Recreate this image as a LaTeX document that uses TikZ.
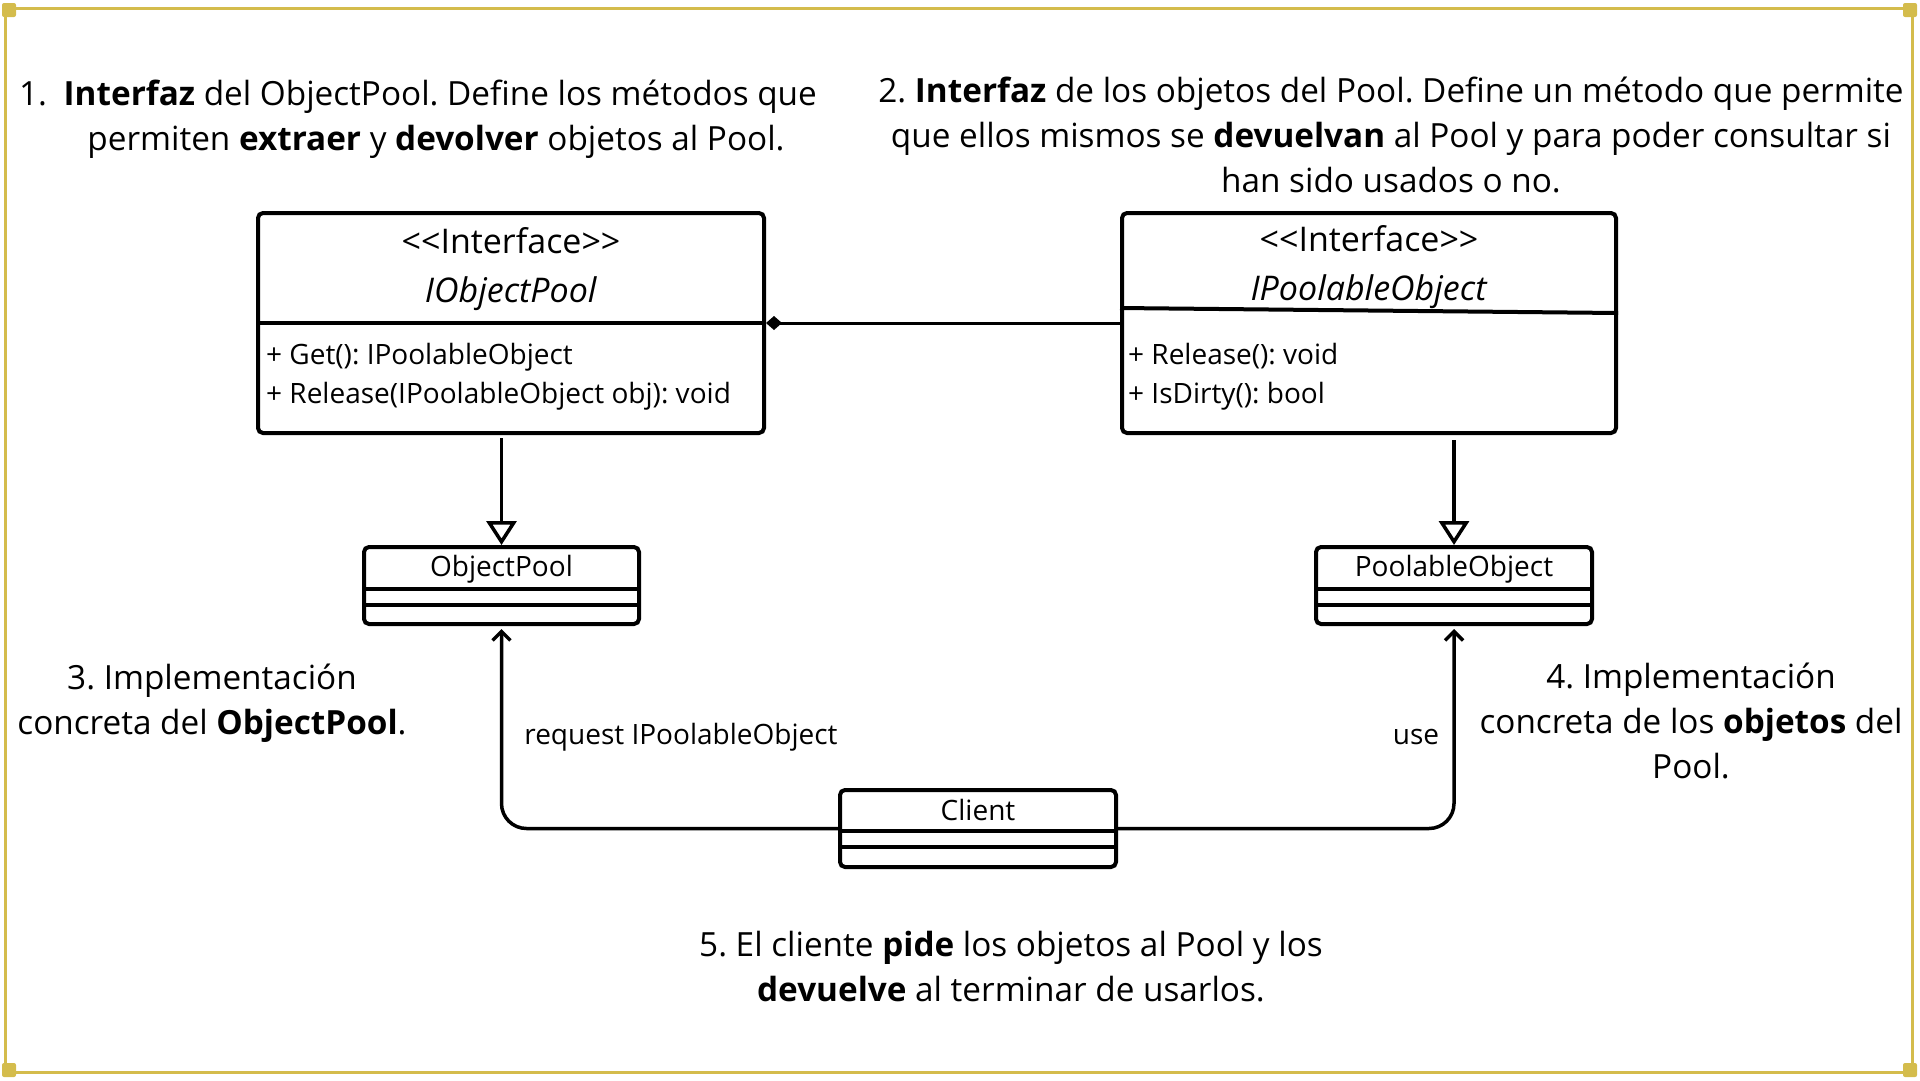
\documentclass[tikz,border=0pt]{standalone}
\usepackage{fontspec}
\setmainfont{Open Sans}
\usetikzlibrary{arrows.meta}
\definecolor{gold}{HTML}{D4BC4C}
\frenchspacing

\begin{document}
\begin{tikzpicture}[x=1pt,y=-1pt,
    umlbox/.style={draw, line width=4pt, rounded corners=5pt, inner sep=0pt},
    divider/.style={line width=4pt},
    bigtext/.style={font=\fontsize{33.3}{45}\selectfont, align=center, inner sep=0pt},
    headtext/.style={font=\fontsize{34}{49}\selectfont, align=center, inner sep=0pt},
    boxtext/.style={font=\fontsize{28}{39}\selectfont, align=left, inner sep=0pt},
    linktext/.style={font=\fontsize{28}{32}\selectfont, inner sep=0pt},
    inherit/.style={line width=3.5pt, -{Triangle[open, length=24pt, width=30pt, line width=3.5pt]}},
    uses/.style={line width=3.5pt, rounded corners=25pt, -{Straight Barb[length=9pt, width=18pt]}},
    owns/.style={line width=3pt, {Diamond[length=16pt, width=14pt]}-},
    frame/.style={draw=gold, line width=3pt}]
    \useasboundingbox (0,0) rectangle (1920,1080);
    % marco
    \draw[frame] (5,8) rectangle (1912,1072);
    \foreach \cx/\cy in {9/10, 1910/10, 9/1070, 1910/1070}
      \fill[gold, rounded corners=2pt] (\cx-7,\cy-7) rectangle (\cx+7,\cy+7);

    % textos
    \node[bigtext] (txtuno) at (418,119) {1.\enspace\textbf{Interfaz} del ObjectPool. Define los métodos que\\ \hspace*{36pt}permiten \textbf{extraer} y \textbf{devolver} objetos al Pool.};
    \node[bigtext] (txtdos) at (1391,135) {2. \textbf{Interfaz} de los objetos del Pool. Define un método que permite\\ que ellos mismos se \textbf{devuelvan} al Pool y para poder consultar si\\ han sido usados o no.};
    \node[bigtext] (txttres) at (212,703) {3. Implementación\\ concreta del \textbf{ObjectPool}.};
    \node[bigtext] (txtcuatro) at (1691,721) {4. Implementación\\ concreta de los \textbf{objetos} del\\ Pool.};
    \node[bigtext] (txtcinco) at (1011,967) {5. El cliente \textbf{pide} los objetos al Pool y los\\ \textbf{devuelve} al terminar de usarlos.};

    % interfaces
    \node[umlbox, minimum width=506pt, minimum height=220pt] (iop) at (511,323) {};
    \draw[divider] (iop.west) -- (iop.east);
    \node[headtext] (iophead) at (511,269) {<\kern0pt<Interface>\kern0pt>\\ \textit{IObjectPool}};
    \node[boxtext, anchor=west] (iopops) at (266,377) {+ Get(): IPoolableObject\\ + Release(IPoolableObject obj): void};

    \node[umlbox, minimum width=494pt, minimum height=220pt] (ipo) at (1369,323) {};
    \draw[divider] ([yshift=15pt]ipo.west) -- ([yshift=10pt]ipo.east);
    \node[headtext] (ipohead) at (1369,267) {<\kern0pt<Interface>\kern0pt>\\ \textit{IPoolableObject}};
    \node[boxtext, anchor=west] (ipoops) at (1128,377) {+ Release(): void\\ + IsDirty(): bool};

    % clases
    \node[umlbox, minimum width=275pt, minimum height=77pt] (opool) at (501.5,585.5) {};
    \node[boxtext] (opooltitle) at ([yshift=16pt]opool.center) {ObjectPool};
    \draw[divider] ([yshift=-3.5pt]opool.west) -- ([yshift=-3.5pt]opool.east);
    \draw[divider] ([yshift=-19.5pt]opool.west) -- ([yshift=-19.5pt]opool.east);

    \node[umlbox, minimum width=276pt, minimum height=77pt] (pobj) at (1454,585.5) {};
    \node[boxtext] (pobjtitle) at ([yshift=16pt]pobj.center) {PoolableObject};
    \draw[divider] ([yshift=-3.5pt]pobj.west) -- ([yshift=-3.5pt]pobj.east);
    \draw[divider] ([yshift=-19.5pt]pobj.west) -- ([yshift=-19.5pt]pobj.east);

    \node[umlbox, minimum width=276pt, minimum height=77pt] (client) at (978,828.5) {};
    \node[boxtext] (clienttitle) at ([yshift=19pt]client.center) {Client};
    \draw[divider] ([yshift=-2.5pt]client.west) -- ([yshift=-2.5pt]client.east);
    \draw[divider] ([yshift=-18.5pt]client.west) -- ([yshift=-18.5pt]client.east);

    % relaciones
    \draw[owns] (iop.east) -- (ipo.west);
    \draw[inherit] ([yshift=-3pt]opool.north |- iop.south) -- (opool.north);
    \draw[inherit] ([yshift=-5pt]pobj.north |- ipo.south) -- (pobj.north);
    \draw[uses] (client.west) -| ([yshift=-3pt]opool.south);
    \draw[uses] (client.east) -| ([yshift=-3pt]pobj.south);
    \node[linktext] (reqlabel) at (681,737) {request IPoolableObject};
    \node[linktext] (uselabel) at (1416,737) {use};
  \end{tikzpicture}
\end{document}
